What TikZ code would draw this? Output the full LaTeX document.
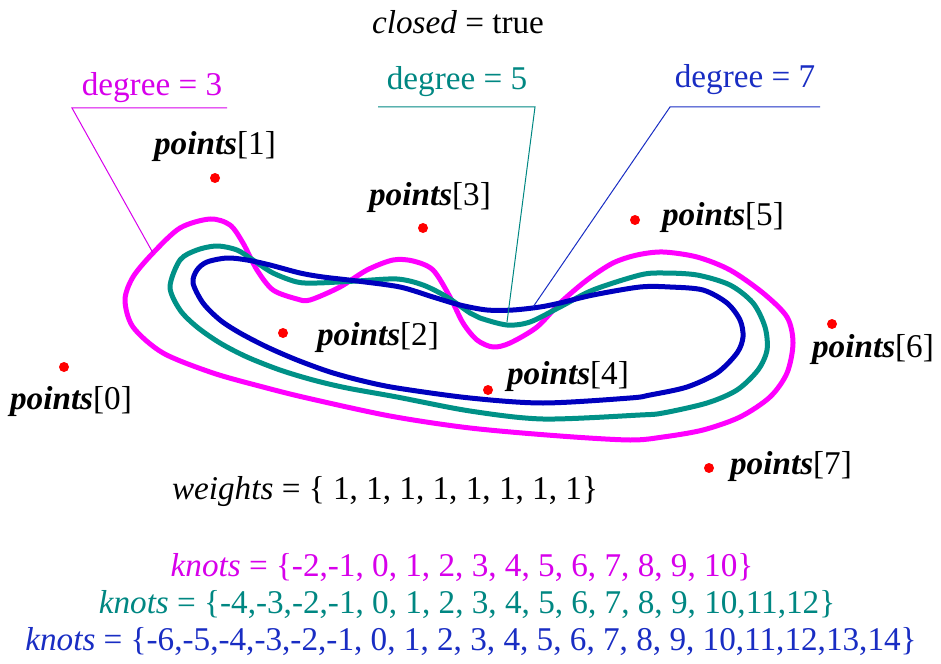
\documentclass[tikz,border=0pt]{standalone}
\usepackage{fontspec}
\setmainfont{Liberation Serif}
\definecolor{degthree}{RGB}{255,0,255}
\definecolor{degthreetxt}{RGB}{215,0,235}
\definecolor{degfive}{RGB}{0,145,135}
\definecolor{degfivetxt}{RGB}{0,135,130}
\definecolor{degseven}{RGB}{0,0,190}
\definecolor{degseventxt}{RGB}{25,45,195}
\newcommand{\ptlabel}[1]{\textbf{\textit{points}}[#1]}

\begin{document}
\begin{tikzpicture}[x=0.5pt, y=-0.5pt,
  lbl/.style={inner sep=0pt, font=\fontsize{16.6}{20}\selectfont},
  ctrl/.style={circle, fill=red, inner sep=0pt, minimum size=5pt},
  curve/.style={line width=2.5pt, line join=round},
  leader/.style={line width=0.5pt}]
\useasboundingbox (0,0) rectangle (941,663);

% control points
\node[ctrl] (p0) at (64,367) {};
\node[ctrl] (p1) at (215,178) {};
\node[ctrl] (p2) at (283,333) {};
\node[ctrl] (p3) at (423,228) {};
\node[ctrl] (p4) at (488,390) {};
\node[ctrl] (p5) at (635,220) {};
\node[ctrl] (p6) at (832,324) {};
\node[ctrl] (p7) at (709,468) {};

\node[lbl] (l0) at (71,402) {\ptlabel{0}};
\node[lbl] (l1) at (215,147) {\ptlabel{1}};
\node[lbl] (l2) at (378,338) {\ptlabel{2}};
\node[lbl] (l3) at (430,198) {\ptlabel{3}};
\node[lbl] (l4) at (568,377) {\ptlabel{4}};
\node[lbl] (l5) at (723,218) {\ptlabel{5}};
\node[lbl] (l6) at (873,350) {\ptlabel{6}};
\node[lbl] (l7) at (791,467) {\ptlabel{7}};

% the three closed curves
\draw[curve, degthree] plot[smooth cycle, tension=0.5] coordinates {
  (125,300) (133,277) (153,253) (180,228) (210,219) (230,225) (243,243)
  (257,270) (273,290) (297,299) (310,300) (340,287) (367,270) (393,260)
  (413,261) (433,270) (450,297) (463,323) (477,340) (493,347) (510,343)
  (537,327) (560,303) (587,280) (613,263) (637,255) (663,252) (697,257)
  (730,270) (763,293) (787,317) (793,343) (787,373) (770,397) (740,417)
  (703,430) (663,437) (630,440) (560,436) (470,428) (390,416) (307,398)
  (263,387) (213,373) (163,353) (133,327)};
\draw[curve, degfive] plot[smooth cycle, tension=0.5] coordinates {
  (170,287) (180,260) (197,250) (217,246) (237,250) (253,260) (273,273)
  (297,282) (317,283) (357,281) (397,279) (423,285) (447,297) (470,313)
  (480,318) (507,325) (530,322) (560,307) (593,290) (640,275) (663,273)
  (697,275) (730,285) (753,303) (765,327) (767,350) (758,370) (737,390)
  (707,403) (663,413) (640,415) (543,419) (470,411) (397,397) (347,388)
  (313,380) (280,370) (247,357) (220,343) (197,327) (180,310)};
\draw[curve, degseven] plot[smooth cycle, tension=0.5] coordinates {
  (193,283) (197,270) (207,262) (227,258) (247,260) (270,265) (300,273)
  (323,277) (357,281) (400,287) (433,297) (460,305) (487,310) (513,310)
  (540,307) (560,303) (593,295) (640,287) (670,287) (703,290) (727,303)
  (740,320) (743,337) (737,353) (717,373) (687,387) (650,395) (630,398)
  (543,403) (470,398) (397,388) (363,381) (330,372) (297,360) (267,347)
  (240,333) (220,320) (203,303)};

% degree labels with leaders
\node[lbl, degthreetxt] (d3) at (152,88) {degree = 3};
\node[lbl, degfivetxt] (d5) at (457,82) {degree = 5};
\node[lbl, degseventxt] (d7) at (745,80) {degree = 7};
\coordinate (d3a) at (72,108);  \coordinate (d3b) at (227,108);
\coordinate (d5a) at (378,107); \coordinate (d5b) at (535,107);
\coordinate (d7a) at (670,107); \coordinate (d7b) at (820,107);
\coordinate (c3) at (153,253);
\coordinate (c5) at (507,322);
\coordinate (c7) at (533,307);
\draw[leader, degthreetxt] (d3b) -- (d3a) -- (c3);
\draw[leader, degfivetxt] (d5a) -- (d5b) -- (c5);
\draw[leader, degseventxt] (d7b) -- (d7a) -- (c7);

% texts
\node[lbl] (closed) at (458,22) {\textit{closed} = true};
\node[lbl] (weights) at (385,492) {\textit{weights} = \{ 1, 1, 1, 1, 1, 1, 1, 1\}};
\node[lbl, degthreetxt] (k3) at (462,568)
  {\textit{knots} = \{-2,-1, 0, 1, 2, 3, 4, 5, 6, 7, 8, 9, 10\}};
\node[lbl, degfivetxt] (k5) at (467,605)
  {\textit{knots} = \{-4,-3,-2,-1, 0, 1, 2, 3, 4, 5, 6, 7, 8, 9, 10,11,12\}};
\node[lbl, degseventxt] (k7) at (471,642)
  {\textit{knots} = \{-6,-5,-4,-3,-2,-1, 0, 1, 2, 3, 4, 5, 6, 7, 8, 9, 10,11,12,13,14\}};
\end{tikzpicture}
\end{document}
